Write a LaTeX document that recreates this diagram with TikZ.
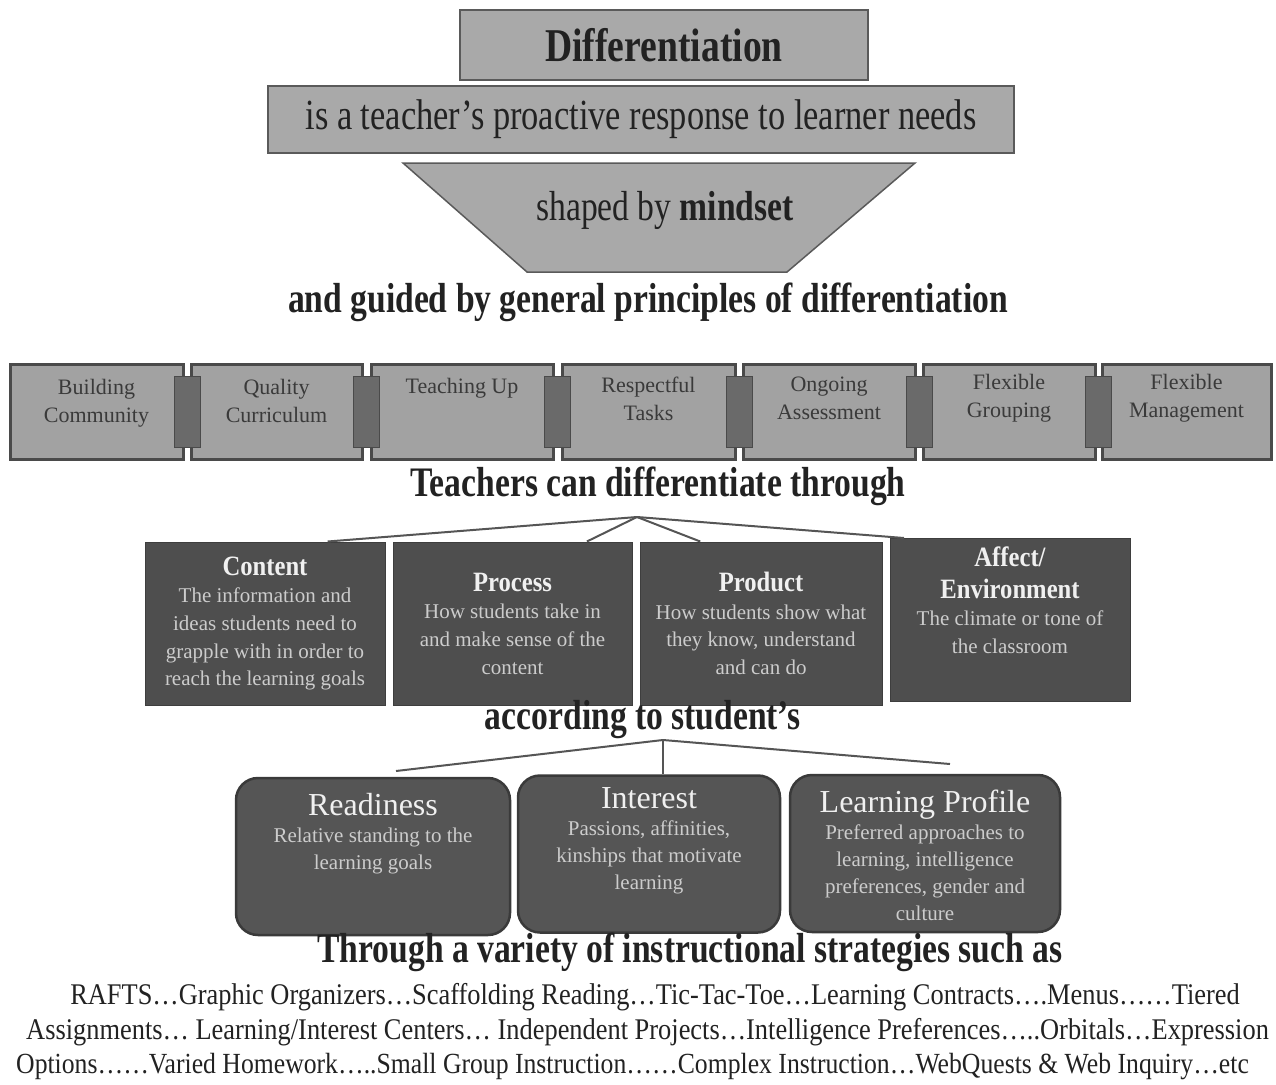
\documentclass[tikz,border=0pt]{standalone}
\usepackage{fontspec}
\setmainfont{Liberation Serif}
\newfontfamily\nar[FakeStretch=0.8]{Liberation Serif}
\newfontfamily\narr[FakeStretch=0.88]{Liberation Serif}
\usetikzlibrary{calc}
\definecolor{topfill}{HTML}{A9A9A9}
\definecolor{topdraw}{HTML}{5A5A5A}
\definecolor{chainfill}{HTML}{A2A2A2}
\definecolor{chaindraw}{HTML}{4A4A4A}
\definecolor{chaintext}{HTML}{3A3A3A}
\definecolor{linkfill}{HTML}{6A6A6A}
\definecolor{midfill}{HTML}{4E4E4E}
\definecolor{middraw}{HTML}{3E3E3E}
\definecolor{midtext}{HTML}{CCCCCC}
\definecolor{midtitle}{HTML}{F0F0F0}
\definecolor{botfill}{HTML}{555555}
\definecolor{botdraw}{HTML}{3A3A3A}
\definecolor{headcol}{HTML}{222222}
\definecolor{conncol}{HTML}{555555}
\tikzset{
  topbox/.style={draw=topdraw, fill=topfill, line width=1.5pt, inner sep=0pt, text=headcol},
  chainbox/.style={draw=chaindraw, fill=chainfill, line width=3pt, minimum height=95pt, inner sep=0pt},
  chaintxt/.style={text=chaintext, align=center, font=\fontsize{22}{28}\selectfont, anchor=north, inner sep=0pt},
  linkbox/.style={fill=linkfill, draw=chaindraw, line width=1pt, minimum width=26pt, minimum height=71pt, inner sep=0pt},
  midbox/.style={fill=midfill, draw=middraw, line width=1pt, minimum height=163pt, inner sep=0pt, align=center, text=midtext, font=\fontsize{21}{27.7}\selectfont},
  bottombox/.style={fill=botfill, draw=botdraw, line width=2.5pt, rounded corners=22pt, minimum height=157pt, inner sep=0pt},
  bottxt/.style={text=midtext, align=center, font=\fontsize{21}{27}\selectfont, anchor=north, inner sep=0pt},
  heading/.style={font=\nar\bfseries\fontsize{42}{42}\selectfont, text=headcol, inner sep=0pt},
  strat/.style={font=\narr\fontsize{30}{30}\selectfont, text=headcol, inner sep=0pt},
  conn/.style={draw=conncol, line width=2pt},
}
\newcommand{\midtitle}[1]{{\narr\bfseries\fontsize{28}{31}\selectfont\color{midtitle}#1}}
\newcommand{\bottitle}[1]{{\fontsize{32}{33}\selectfont\color{midtitle}#1}}
\begin{document}
\begin{tikzpicture}[x=1pt,y=-1pt]
\useasboundingbox (0,0) rectangle (1276,1084);
\fill[white] (0,0) rectangle (1276,1084);

% top
\node[topbox, minimum width=408pt, minimum height=70pt] (diff) at (664,45)
  {\nar\bfseries\fontsize{47}{47}\selectfont Differentiation};
\node[topbox, minimum width=746pt, minimum height=67pt] (resp) at (641,119.5)
  {\nar\fontsize{43}{43}\selectfont is a teacher’s proactive response to learner needs};
\draw[topbox] (403,163) coordinate (tz1) -- (915,163) coordinate (tz2)
  -- (787,272) coordinate (tz3) -- (527,272) coordinate (tz4) -- cycle;
\node[text=headcol, inner sep=0pt, font=\nar\fontsize{42}{42}\selectfont] (mind) at (665,210) {shaped by \textbf{mindset}};

\node[heading] (guided) at (648,302) {and guided by general principles of differentiation};

% chain
\node[chainbox, minimum width=173pt] (b1) at (96.5,411.5) {};
\node[chainbox, minimum width=171pt] (b2) at (276.5,411.5) {};
\node[chainbox, minimum width=182pt] (b3) at (462,411.5) {};
\node[chainbox, minimum width=173pt] (b4) at (648.5,411.5) {};
\node[chainbox, minimum width=172pt] (b5) at (829,411.5) {};
\node[chainbox, minimum width=172pt] (b6) at (1009,411.5) {};
\node[chainbox, minimum width=169pt] (b7) at (1186.5,411.5) {};
\foreach \a/\b [count=\i] in {b1/b2,b2/b3,b3/b4,b4/b5,b5/b6,b6/b7}
  \node[linkbox] (link\i) at ($(\a.east)!0.5!(\b.west)$) {};
\node[chaintxt] (t1) at ($(b1.north)+(0,17)$) {Building\\Community};
\node[chaintxt] (t2) at ($(b2.north)+(0,17)$) {Quality\\Curriculum};
\node[chaintxt] (t3) at ($(b3.north)+(0,16)$) {Teaching Up};
\node[chaintxt] (t4) at ($(b4.north)+(0,14)$) {Respectful\\Tasks};
\node[chaintxt] (t5) at ($(b5.north)+(0,14)$) {Ongoing\\Assessment};
\node[chaintxt] (t6) at ($(b6.north)+(0,12)$) {Flexible\\Grouping};
\node[chaintxt] (t7) at ($(b7.north)+(0,12)$) {Flexible\\Management};

\node[heading] (through) at (658,486) {Teachers can differentiate through};

% middle boxes
\node[midbox, minimum width=240pt] (content) at (265,623.5)
  {\midtitle{Content}\\The information and\\ideas students need to\\grapple with in order to\\reach the learning goals};
\node[midbox, minimum width=239pt] (process) at (512.5,623.5)
  {\midtitle{Process}\\How students take in\\and make sense of the\\content};
\node[midbox, minimum width=242pt] (product) at (761,623.5)
  {\midtitle{Product}\\How students show what\\they know, understand\\and can do};
\node[midbox, minimum width=240pt] (affect) at (1010,620)
  {\midtitle{Affect/}\\[4pt]\midtitle{Environment}\\The climate or tone of\\the classroom\\[12pt]};

\coordinate (apex1) at (637,517);
\draw[conn] (apex1) -- ($(content.north west)!0.76!(content.north east)$);
\draw[conn] (apex1) -- ($(process.north west)!0.81!(process.north east)$);
\draw[conn] (apex1) -- ($(product.north west)!0.25!(product.north east)$);
\draw[conn] (apex1) -- ($(affect.north west)!0.06!(affect.north east)$);

\node[heading] (according) at (643,720) {according to student’s};

% bottom boxes
\node[bottombox, minimum width=274pt] (ready) at (373,856.5) {};
\node[bottombox, minimum width=262pt] (interest) at (649,854) {};
\node[bottombox, minimum width=270pt] (profile) at (925,853.5) {};
\node[bottxt] (rt) at ($(ready.north)+(0,16)$) {\bottitle{Readiness}\\Relative standing to the\\learning goals};
\node[bottxt] (it) at ($(interest.north)+(0,13)$) {\bottitle{Interest}\\Passions, affinities,\\kinships that motivate\\learning};
\node[bottxt] (pt) at ($(profile.north)+(0,16)$) {\bottitle{Learning Profile}\\Preferred approaches to\\learning, intelligence\\preferences, gender and\\culture};

\coordinate (apex2) at (663,740);
\coordinate (lend) at (396,771);
\coordinate (rend) at (950,764);
\draw[conn] (apex2) -- (lend);
\draw[conn] (apex2) -- (apex2 |- interest.north);
\draw[conn] (apex2) -- (rend);

\node[heading] (variety) at (690,952) {Through a variety of instructional strategies such as};

\node[strat] (s1) at (655,997) {RAFTS…Graphic Organizers…Scaffolding Reading…Tic-Tac-Toe…Learning Contracts….Menus……Tiered};
\node[strat, anchor=west] (s2) at (26,1032) {Assignments… Learning/Interest Centers… Independent Projects…Intelligence Preferences…..Orbitals…Expression};
\node[strat, anchor=west, font=\narr\fontsize{29.2}{30}\selectfont] (s3) at (16,1067) {Options……Varied Homework…..Small Group Instruction……Complex Instruction…WebQuests \& Web Inquiry…etc};
\end{tikzpicture}
\end{document}
